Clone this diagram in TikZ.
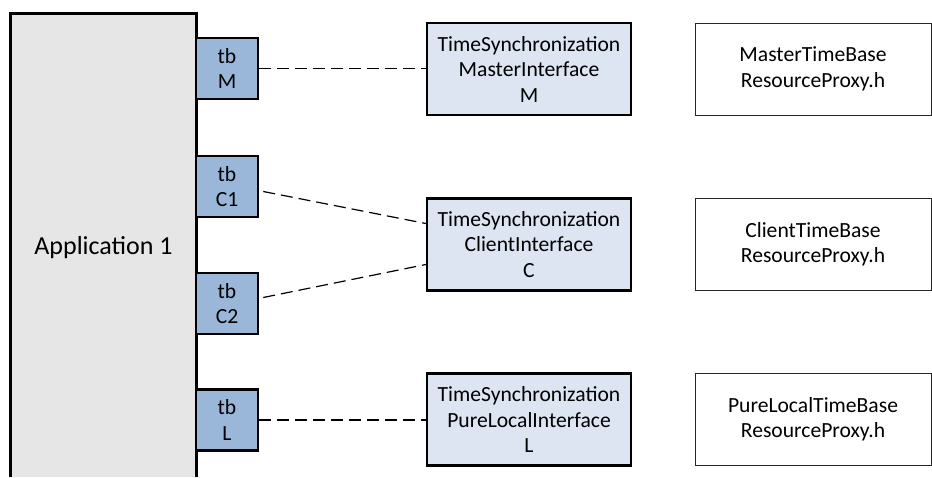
\documentclass[tikz,border=0pt]{standalone}
\usepackage{fontspec}
\setmainfont{Carlito}
\begin{document}
\begin{tikzpicture}[x=1pt,y=-1pt,
  every node/.style={font=\fontsize{21.6}{25.5}\selectfont, align=center, inner sep=0pt},
  appbox/.style={fill=appgray, minimum width=185pt, minimum height=463pt},
  tbbox/.style={draw=black, line width=2.5pt, fill=tbblue, minimum width=62pt, minimum height=61pt},
  ifbox/.style={draw=black, line width=2.5pt, fill=iflight, minimum width=204pt, minimum height=92pt},
  proxybox/.style={draw=black!85, line width=1pt, fill=white, minimum width=236pt, minimum height=92pt},
  dashline/.style={draw=black, line width=1.2pt, dash pattern=on 12pt off 6pt}
]
\definecolor{appgray}{HTML}{E6E6E6}
\definecolor{tbblue}{HTML}{9AB6D8}
\definecolor{iflight}{HTML}{DCE5F1}
\useasboundingbox (0,0) rectangle (932,477);
\fill[white] (0,0) rectangle (932,477);

\node[appbox] (app) at (103.5,245.5) {};
\node[font=\fontsize{26}{30}\selectfont] at (103.5,248) (apptext) {Application 1};
\draw[line width=3pt] (app.south west) -- (app.north west) -- (app.north east) -- (app.south east);

\node[tbbox] (tbM) at (227,68.5) {tb\\M};
\node[tbbox] (tbC1) at (227,186.5) {tb\\C1};
\node[tbbox] (tbC2) at (227,303.5) {tb\\C2};
\node[tbbox] (tbL) at (227,420) {tb\\L};

\node[ifbox] (ifM) at (529,69) {TimeSynchronization\\MasterInterface\\M};
\node[ifbox] (ifC) at (529,244.5) {TimeSynchronization\\ClientInterface\\C};
\node[ifbox] (ifL) at (529,419.5) {TimeSynchronization\\PureLocalInterface\\L};

\node[proxybox] (pxM) at (813,69) {MasterTimeBase\\ResourceProxy.h};
\node[proxybox] (pxC) at (813,244) {ClientTimeBase\\ResourceProxy.h};
\node[proxybox] (pxL) at (813,419) {PureLocalTimeBase\\ResourceProxy.h};

\draw[dashline] (tbM.east) -- (ifM.west |- tbM.east);
\draw[dashline] ([xshift=4pt,yshift=-5pt]tbC1.east) -- ([yshift=21pt]ifC.west);
\draw[dashline] ([xshift=4pt,yshift=6pt]tbC2.east) -- ([yshift=-20pt]ifC.west);
\draw[dashline] (tbL.east) -- (ifL.west |- tbL.east);
\end{tikzpicture}
\end{document}
